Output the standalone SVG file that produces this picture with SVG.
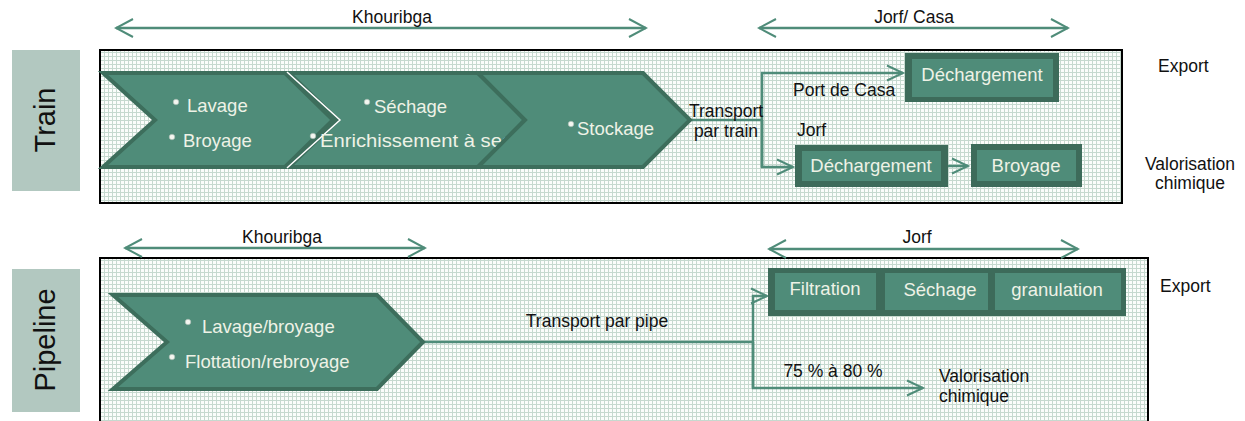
<svg xmlns="http://www.w3.org/2000/svg" width="1245" height="421" viewBox="0 0 1245 421">
<defs>
<pattern id="grid" width="4" height="4" patternUnits="userSpaceOnUse">
<rect width="4" height="4" fill="#fbfdfb"/>
<path d="M0,0.5H4M0.5,0V4" stroke="#c6d9cf" stroke-width="1"/>
</pattern>
<marker id="ah" markerWidth="20" markerHeight="20" refX="18" refY="10" orient="auto-start-reverse" markerUnits="userSpaceOnUse">
<path d="M1,1 L18,10 L1,19" fill="none" stroke="#4f8c79" stroke-width="2"/>
</marker>
<marker id="ahs" markerWidth="20" markerHeight="18" refX="17" refY="9" orient="auto" markerUnits="userSpaceOnUse">
<path d="M1,1.5 L17,9 L1,16.5" fill="none" stroke="#4f8c79" stroke-width="2"/>
</marker>
</defs>
<style>
text{font-family:"Liberation Sans",Arial,sans-serif;}
.lbl{font-size:17.5px;fill:#111;}
.side{font-size:29px;fill:#111;}
.wt{font-size:18.5px;fill:#eef2e6;}
.chev{fill:#4f8c79;stroke:#3d6e5c;stroke-width:4;stroke-linejoin:miter;}
.outer{fill:#3d6b5a;}
.inner{fill:#4f8c79;}
.bul{fill:#f4f6f0;stroke:#9fb5ad;stroke-width:0.6;}
.ln{fill:none;stroke:#4f8c79;stroke-width:2.5;}
.dim{fill:none;stroke:#4f8c79;stroke-width:2.5;}
.frame{fill:url(#grid);stroke:#000;stroke-width:2;}
</style>
<rect width="1245" height="421" fill="#fff"/>

<!-- side labels -->
<g id="label-train">
<rect x="12" y="50" width="68" height="141" fill="#b2c8c0"/>
<text class="side" transform="translate(55,120) rotate(-90)" text-anchor="middle">Train</text>
</g>
<g id="label-pipeline">
<rect x="12" y="269" width="68" height="143" fill="#b2c8c0"/>
<text class="side" transform="translate(55,340) rotate(-90)" text-anchor="middle">Pipeline</text>
</g>

<!-- frames -->
<g id="frame-train"><rect class="frame" x="100" y="50" width="1022" height="153"/></g>
<g id="frame-pipeline"><rect class="frame" x="100" y="258" width="1048" height="170"/></g>

<!-- dimension arrows -->
<g id="dimensions">
<line class="dim" x1="116" y1="28" x2="646" y2="28" marker-start="url(#ah)" marker-end="url(#ah)"/>
<text class="lbl" x="392" y="23" text-anchor="middle">Khouribga</text>
<line class="dim" x1="759" y1="28" x2="1068" y2="28" marker-start="url(#ah)" marker-end="url(#ah)"/>
<text class="lbl" x="914" y="23" text-anchor="middle">Jorf/ Casa</text>
<line class="dim" x1="125" y1="248" x2="425" y2="248" marker-start="url(#ah)" marker-end="url(#ah)"/>
<text class="lbl" x="282" y="243" text-anchor="middle">Khouribga</text>
<line class="dim" x1="769" y1="249" x2="1078" y2="249" marker-start="url(#ah)" marker-end="url(#ah)"/>
<text class="lbl" x="917" y="243" text-anchor="middle">Jorf</text>
</g>

<!-- connectors -->
<g id="connectors">
<polyline class="ln" points="690,120 762,120"/>
<polyline class="ln" points="762,167 762,73 903,73" marker-end="url(#ahs)"/>
<polyline class="ln" points="762,120 762,167 793,167" marker-end="url(#ahs)"/>
<line class="ln" x1="948" y1="166" x2="968" y2="166" marker-end="url(#ahs)"/>
<polyline class="ln" points="423,342 753,342"/>
<polyline class="ln" points="753,388 753,296 767,296" marker-end="url(#ahs)"/>
<polyline class="ln" points="753,342 753,388 923,388" marker-end="url(#ahs)"/>
</g>

<!-- train chevrons -->
<g id="chev-lavage">
<polygon class="chev" points="103,73 285,73 333,120 285,167 103,167 155,120"/>
<circle class="bul" cx="176" cy="102" r="2.8"/>
<text class="wt" x="187" y="112">Lavage</text>
<circle class="bul" cx="172" cy="137" r="2.8"/>
<text class="wt" x="183" y="147">Broyage</text>
</g>
<g id="chev-sechage">
<polygon class="chev" points="289,73 478,73 525,120 478,167 289,167 338,120"/>
<polyline points="287,72 340,120 287,168" fill="none" stroke="#fff" stroke-width="1.5"/>
<circle class="bul" cx="367" cy="102" r="2.8"/>
<text class="wt" x="374" y="113">Séchage</text>
<circle class="bul" cx="313" cy="136" r="2.8"/>
<text class="wt" x="320" y="147" textLength="192" lengthAdjust="spacingAndGlyphs">Enrichissement à sec</text>
</g>
<g id="chev-stockage">
<polygon class="chev" points="478,73 643,73 690,120 643,167 478,167 525,120"/>
<circle class="bul" cx="571" cy="124" r="2.8"/>
<text class="wt" x="577" y="135">Stockage</text>
</g>

<g id="lbl-transport-train">
<text class="lbl" x="726" y="117" text-anchor="middle" font-size="18.5">Transport</text>
<text class="lbl" x="726" y="137" text-anchor="middle" font-size="18.5">par train</text>
</g>
<g id="lbl-port"><text class="lbl" x="793" y="96">Port de Casa</text></g>
<g id="lbl-jorf"><text class="lbl" x="797" y="136">Jorf</text></g>

<g id="box-dechargement-casa">
<rect class="outer" x="905" y="53" width="154" height="49"/>
<rect class="inner" x="912" y="59" width="141" height="38"/>
<text class="wt" x="982" y="81" text-anchor="middle" font-size="17.5">Déchargement</text>
</g>
<g id="box-dechargement-jorf">
<rect class="outer" x="795" y="145" width="153" height="42"/>
<rect class="inner" x="802" y="151" width="139" height="30"/>
<text class="wt" x="871" y="172" text-anchor="middle" font-size="17.5">Déchargement</text>
</g>
<g id="box-broyage">
<rect class="outer" x="971" y="144" width="111" height="43"/>
<rect class="inner" x="977" y="150" width="99" height="31"/>
<text class="wt" x="1026" y="172" text-anchor="middle" font-size="17.5">Broyage</text>
</g>

<g id="lbl-export-train"><text class="lbl" x="1158" y="72">Export</text></g>
<g id="lbl-valo-train">
<text class="lbl" x="1190" y="170" text-anchor="middle">Valorisation</text>
<text class="lbl" x="1190" y="189" text-anchor="middle">chimique</text>
</g>

<!-- pipeline -->
<g id="chev-pipeline">
<polygon class="chev" points="113,295 377,295 423,342 377,389 113,389 167,342"/>
<circle class="bul" cx="188" cy="322" r="2.8"/>
<text class="wt" x="202" y="333" font-size="19">Lavage/broyage</text>
<circle class="bul" cx="172" cy="357" r="2.8"/>
<text class="wt" x="185" y="368">Flottation/rebroyage</text>
</g>
<g id="lbl-transport-pipe"><text class="lbl" x="597" y="327" text-anchor="middle" font-size="19">Transport par pipe</text></g>
<g id="lbl-pct"><text class="lbl" x="833" y="377" text-anchor="middle" font-size="19.5">75 % à 80 %</text></g>

<g id="box-finishing">
<rect class="outer" x="768" y="268" width="358" height="48"/>
<g id="box-filtration">
<rect class="inner" x="775" y="273" width="101" height="37"/>
<text class="wt" x="825" y="295" text-anchor="middle" font-size="17.5">Filtration</text>
</g>
<g id="box-sechage">
<rect class="inner" x="885" y="273" width="103" height="37"/>
<text class="wt" x="940" y="296" text-anchor="middle" font-size="19">Séchage</text>
</g>
<g id="box-granulation">
<rect class="inner" x="995" y="273" width="126" height="37"/>
<text class="wt" x="1057" y="296" text-anchor="middle" font-size="19">granulation</text>
</g>
</g>

<g id="lbl-export-pipe"><text class="lbl" x="1160" y="292">Export</text></g>
<g id="lbl-valo-pipe">
<text class="lbl" x="939" y="382">Valorisation</text>
<text class="lbl" x="939" y="402">chimique</text>
</g>
</svg>
